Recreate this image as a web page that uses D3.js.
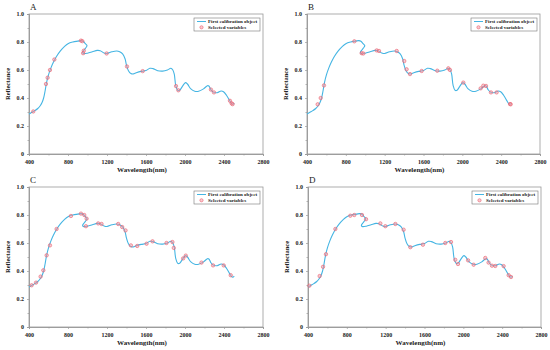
<!DOCTYPE html>
<html>
<head>
<meta charset="utf-8">
<script src="https://cdn.jsdelivr.net/npm/d3@7"></script>
<style>
  body { margin: 0; background: #fff; }
  svg { display: block; font-family: "Liberation Serif", "Times New Roman", serif; }
</style>
</head>
<body>
<svg width="550" height="350"></svg>
<script>
///////////////////////////////////////////
// Data: first calibration object spectrum (wavelength nm, reflectance)
// note the detector splice near 1000 nm, where the trace runs back on itself
var spectrumWavelength = [400, 430, 460, 490, 515, 535, 550, 565, 580, 600, 625, 650, 680, 720, 760, 800, 850, 900, 935, 955, 975, 995,
  980, 962, 950, 958, 1000, 1050, 1100, 1130, 1170, 1200, 1250, 1300, 1330, 1360, 1385, 1400, 1420, 1445, 1470, 1500, 1550, 1600,
  1640, 1670, 1720, 1770, 1820, 1855, 1875, 1890, 1905, 1925, 1945, 1975, 2005, 2025, 2060, 2100, 2140, 2190, 2230, 2245, 2265,
  2290, 2330, 2370, 2395, 2425, 2455, 2475, 2490, 2505];
var spectrumReflectance = [0.286, 0.298, 0.31, 0.325, 0.345, 0.37, 0.40, 0.45, 0.51, 0.565, 0.615, 0.655, 0.695, 0.735, 0.765, 0.788, 0.80, 0.806, 0.81, 0.805, 0.79, 0.774,
  0.756, 0.74, 0.726, 0.718, 0.72, 0.73, 0.74, 0.738, 0.722, 0.718, 0.73, 0.736, 0.73, 0.715, 0.68, 0.635, 0.595, 0.575, 0.572, 0.58, 0.59, 0.596,
  0.612, 0.61, 0.595, 0.592, 0.60, 0.612, 0.60, 0.57, 0.49, 0.455, 0.455, 0.485, 0.51, 0.50, 0.465, 0.448, 0.448, 0.465, 0.488, 0.486, 0.46,
  0.442, 0.438, 0.45, 0.445, 0.42, 0.385, 0.362, 0.356, 0.364];

// Selected variables per panel (wavelength, reflectance)
var selectedA = [[444, 0.304], [574, 0.50], [591, 0.545], [615, 0.60], [660, 0.675], [933, 0.81], [947, 0.806], [962, 0.738], [955, 0.72],
  [1196, 0.718], [1405, 0.625], [1566, 0.592], [1908, 0.485], [1932, 0.455], [2266, 0.46], [2297, 0.44], [2461, 0.38], [2478, 0.362], [2488, 0.356]];
var selectedB = [[510, 0.355], [541, 0.40], [575, 0.49], [888, 0.805], [963, 0.72], [980, 0.718], [1118, 0.74], [1142, 0.736], [1324, 0.736],
  [1402, 0.664], [1426, 0.605], [1461, 0.571], [1581, 0.593], [1742, 0.595], [1856, 0.612], [1873, 0.60], [2010, 0.51], [2189, 0.469],
  [2216, 0.488], [2244, 0.486], [2295, 0.44], [2353, 0.44], [2491, 0.357], [2498, 0.355]];
var selectedC = [[427, 0.298], [472, 0.317], [519, 0.36], [547, 0.405], [581, 0.512], [615, 0.583], [683, 0.70], [830, 0.793], [933, 0.81],
  [967, 0.80], [991, 0.774], [984, 0.72], [1110, 0.74], [1144, 0.736], [1315, 0.736], [1356, 0.714], [1390, 0.69], [1445, 0.583], [1510, 0.579],
  [1606, 0.595], [1667, 0.612], [1810, 0.60], [1871, 0.607], [1885, 0.565], [1981, 0.49], [2008, 0.51], [2169, 0.46], [2288, 0.44],
  [2397, 0.44], [2469, 0.37]];
var selectedD = [[414, 0.295], [520, 0.364], [555, 0.43], [585, 0.52], [682, 0.70], [836, 0.795], [877, 0.80], [956, 0.80], [998, 0.77],
  [1145, 0.74], [1197, 0.72], [1300, 0.736], [1385, 0.695], [1454, 0.57], [1584, 0.588], [1814, 0.60], [1873, 0.607], [1917, 0.48],
  [1945, 0.45], [2049, 0.476], [2106, 0.445], [2226, 0.493], [2260, 0.46], [2295, 0.438], [2329, 0.436], [2415, 0.435], [2467, 0.37], [2491, 0.357]];

var xTicks = [400, 800, 1200, 1600, 2000, 2400, 2800];
var yTicks = [0, 0.2, 0.4, 0.6, 0.8, 1.0];
var panelLetters = ["A", "B", "C", "D"];
var legendLabels = ["First calibration object", "Selected variables"];

///////////////////////////////////////////
// Layout
var lineColor = "#45b5e3",
    markStroke = "#e8606e",
    markFill = "rgba(248,150,160,0.5)",
    frameColor = "#9a9a9a";

var panels = [
  {letter: panelLetters[0], sel: selectedA, x0: 29,  x1: 263, y0: 14,  y1: 154},
  {letter: panelLetters[1], sel: selectedB, x0: 307, x1: 540, y0: 14,  y1: 154},
  {letter: panelLetters[2], sel: selectedC, x0: 29,  x1: 263, y0: 187, y1: 327},
  {letter: panelLetters[3], sel: selectedD, x0: 308, x1: 541, y0: 187, y1: 327}
];

var spectrum = spectrumWavelength.map(function(w, i) { return [w, spectrumReflectance[i]]; });
var svg = d3.select("svg");

panels.forEach(function(p) {
  var x = d3.scaleLinear().domain([400, 2800]).range([p.x0, p.x1]);
  var y = d3.scaleLinear().domain([0, 1]).range([p.y1, p.y0]);
  var g = svg.append("g");

  // frame
  g.append("rect")
    .attr("x", p.x0).attr("y", p.y0)
    .attr("width", p.x1 - p.x0).attr("height", p.y1 - p.y0)
    .attr("fill", "none").attr("stroke", frameColor).attr("stroke-width", 0.8);

  // axes
  var xAxis = g.append("g").attr("transform", "translate(0," + p.y1 + ")")
    .call(d3.axisBottom(x).tickValues(xTicks).tickSize(2).tickPadding(4).tickFormat(d3.format("d")));
  var xMinor = g.append("g").attr("transform", "translate(0," + p.y1 + ")")
    .call(d3.axisBottom(x).tickValues(d3.range(600, 2800, 400)).tickSize(1.5).tickFormat(""));
  var yAxis = g.append("g").attr("transform", "translate(" + p.x0 + ",0)")
    .call(d3.axisLeft(y).tickValues(yTicks).tickSize(2).tickPadding(3).tickFormat(function(d) { return d === 0 ? "0" : d3.format(".1f")(d); }));
  var yMinor = g.append("g").attr("transform", "translate(" + p.x0 + ",0)")
    .call(d3.axisLeft(y).tickValues(d3.range(0.1, 1.0, 0.2)).tickSize(1.5).tickFormat(""));
  [xAxis, xMinor, yAxis, yMinor].forEach(function(a) {
    a.select(".domain").attr("stroke", frameColor).attr("stroke-width", 0.8);
    a.selectAll("line").attr("stroke", frameColor).attr("stroke-width", 0.7);
    a.selectAll("text").attr("fill", "#222").style("font-size", "6px").style("font-weight", "bold")
      .style("font-family", "'Liberation Serif', serif");
  });

  // titles
  g.append("text").attr("x", (p.x0 + p.x1) / 2 - 4).attr("y", p.y1 + 18)
    .attr("text-anchor", "middle").style("font-size", "7px").style("font-weight", "bold").attr("fill", "#222")
    .text("Wavelength(nm)");
  g.append("text").attr("transform", "translate(" + (p.x0 - 19) + "," + ((p.y0 + p.y1) / 2) + ") rotate(-90)")
    .attr("text-anchor", "middle").style("font-size", "6.5px").style("font-weight", "bold").attr("fill", "#222")
    .text("Reflectance");
  g.append("text").attr("x", p.x0 + 1).attr("y", p.y0 - 4)
    .style("font-size", "9px").attr("fill", "#222").text(p.letter);

  // spectrum line
  g.append("path").datum(spectrum)
    .attr("fill", "none").attr("stroke", lineColor).attr("stroke-width", 1.1)
    .attr("d", d3.line().x(function(d) { return x(d[0]); }).y(function(d) { return y(d[1]); }).curve(d3.curveCatmullRom.alpha(0.5)));

  // selected variables
  g.selectAll("circle.sel").data(p.sel).enter().append("circle").attr("class", "sel")
    .attr("cx", function(d) { return x(d[0]); }).attr("cy", function(d) { return y(d[1]); })
    .attr("r", 1.7).attr("fill", markFill).attr("stroke", markStroke).attr("stroke-width", 0.6);

  // legend
  var lw = 66, lh = 13, lx = p.x1 - 3 - lw, ly = p.y0 + 4;
  var leg = g.append("g").attr("transform", "translate(" + lx + "," + ly + ")");
  leg.append("rect").attr("width", lw).attr("height", lh).attr("fill", "#fff")
    .attr("stroke", "#777").attr("stroke-width", 0.6);
  leg.append("line").attr("x1", 3).attr("x2", 12).attr("y1", 3.5).attr("y2", 3.5)
    .attr("stroke", lineColor).attr("stroke-width", 1);
  leg.append("circle").attr("cx", 7.5).attr("cy", 9.3).attr("r", 1.6)
    .attr("fill", markFill).attr("stroke", markStroke).attr("stroke-width", 0.6);
  leg.selectAll("text").data(legendLabels).enter().append("text")
    .attr("x", 14).attr("y", function(d, i) { return 5.3 + i * 5.8; })
    .style("font-size", "5px").style("font-weight", "bold").attr("fill", "#222").text(function(d) { return d; });
});
</script>
</body>
</html>
